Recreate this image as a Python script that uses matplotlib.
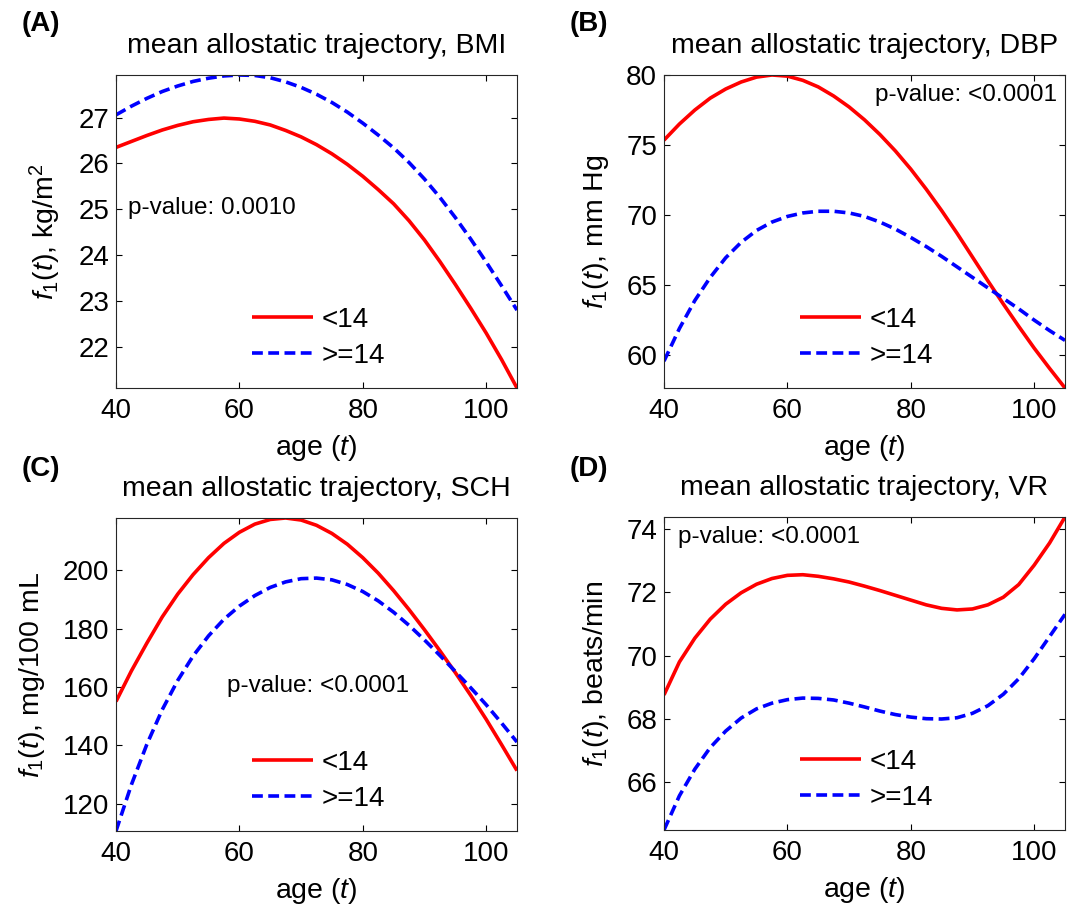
"""
Mean allostatic trajectories (BMI, DBP, SCH, VR) by group, 2x2 panels
"""

import matplotlib
matplotlib.use('Agg')
import matplotlib.pyplot as plt
import numpy as np

plt.rcParams['font.family'] = ['Liberation Sans', 'DejaVu Sans']
plt.rcParams['mathtext.fontset'] = 'custom'
plt.rcParams['mathtext.rm'] = 'Liberation Sans'
plt.rcParams['mathtext.it'] = 'Liberation Sans:italic'

# ages (t), every 2.5 years
age = [40, 42.5, 45, 47.5, 50, 52.5, 55, 57.5, 60, 62.5, 65, 67.5, 70, 72.5,
       75, 77.5, 80, 82.5, 85, 87.5, 90, 92.5, 95, 97.5, 100, 102.5, 105]

# BMI, kg/m^2
bmi_lt14 = [26.35, 26.48, 26.61, 26.73, 26.83, 26.91, 26.96, 26.99, 26.97, 26.92, 26.84, 26.72, 26.58, 26.41,
            26.21, 25.98, 25.72, 25.43, 25.12, 24.75, 24.33, 23.86, 23.36, 22.84, 22.30, 21.72, 21.10]
bmi_ge14 = [27.06, 27.25, 27.42, 27.57, 27.69, 27.79, 27.86, 27.91, 27.93, 27.92, 27.87, 27.78, 27.66, 27.51,
            27.33, 27.12, 26.88, 26.62, 26.34, 26.02, 25.66, 25.26, 24.82, 24.35, 23.85, 23.33, 22.80]

# DBP, mm Hg
dbp_lt14 = [75.35, 76.50, 77.50, 78.35, 79.00, 79.50, 79.85, 80.00, 79.92, 79.62, 79.15, 78.50, 77.72, 76.80,
            75.75, 74.58, 73.28, 71.85, 70.32, 68.70, 67.00, 65.30, 63.65, 62.05, 60.50, 59.05, 57.65]
dbp_ge14 = [59.57, 61.90, 63.90, 65.55, 66.95, 68.05, 68.90, 69.50, 69.90, 70.15, 70.27, 70.27, 70.15, 69.90,
            69.50, 69.00, 68.40, 67.75, 67.05, 66.30, 65.55, 64.80, 64.05, 63.30, 62.50, 61.75, 61.05]

# SCH, mg/100 mL
sch_lt14 = [155.0, 165.5, 175.0, 184.0, 191.8, 198.5, 204.3, 209.2, 213.0, 215.8, 217.4, 217.9, 217.2, 215.4,
            212.6, 208.9, 204.3, 199.0, 193.0, 186.5, 179.6, 172.4, 164.9, 157.1, 148.9, 140.2, 131.3]
sch_ge14 = [110.6, 126.5, 140.3, 152.2, 162.2, 170.6, 177.5, 183.2, 187.7, 191.3, 194.1, 196.0, 197.1, 197.3,
            196.7, 195.1, 192.7, 189.5, 185.6, 181.1, 176.1, 170.8, 165.3, 159.7, 153.9, 147.6, 141.1]

# VR, beats/min
vr_lt14 = [68.76, 69.80, 70.55, 71.15, 71.62, 71.98, 72.25, 72.43, 72.53, 72.55, 72.50, 72.42, 72.32, 72.19,
           72.05, 71.90, 71.75, 71.60, 71.49, 71.44, 71.47, 71.60, 71.84, 72.24, 72.85, 73.55, 74.37]
vr_ge14 = [64.50, 65.58, 66.42, 67.10, 67.62, 68.03, 68.32, 68.50, 68.61, 68.66, 68.65, 68.60, 68.50, 68.38,
           68.25, 68.14, 68.06, 68.01, 68.00, 68.04, 68.18, 68.42, 68.78, 69.27, 69.90, 70.60, 71.30]

group_labels = ['<14', '>=14']
panel_letters = ['(A)', '(B)', '(C)', '(D)']
markers = ['BMI', 'DBP', 'SCH', 'VR']
units = ['kg/m$^2$', 'mm Hg', 'mg/100 mL', 'beats/min']
pvalues = ['p-value: 0.0010', 'p-value: <0.0001', 'p-value: <0.0001', 'p-value: <0.0001']
yticks = [[22, 23, 24, 25, 26, 27], [60, 65, 70, 75, 80],
          [120, 140, 160, 180, 200], [66, 68, 70, 72, 74]]
xticks = [40, 60, 80, 100]

series = [(bmi_lt14, bmi_ge14), (dbp_lt14, dbp_ge14),
          (sch_lt14, sch_ge14), (vr_lt14, vr_ge14)]

# axes boxes in pixels (left, top), all 401 x 313
W, H = 1090, 907
boxes = [(116, 75), (664, 75), (116, 518), (664, 517)]
# where the p-value text sits (axes fraction) and its alignment
pv_pos = [(0.03, 0.575, 'left'), (0.979, 0.936, 'right'),
          (0.276, 0.464, 'left'), (0.034, 0.935, 'left')]
letter_pos = [(22, 24), (570, 24), (22, 469), (570, 469)]

fig = plt.figure(figsize=(W / 100, H / 100), dpi=100)
fig.patch.set_facecolor('white')

for i in range(4):
    x0, y0 = boxes[i]
    ax = fig.add_axes([x0 / W, 1 - (y0 + 313) / H, 401 / W, 313 / H])
    lo, hi = series[i]
    ax.plot(age, lo, color='#ff0000', lw=2.6, solid_capstyle='butt',
            solid_joinstyle='round', label=group_labels[0])
    ax.plot(age, hi, color='#0000ff', lw=2.6, dashes=(3.0, 1.5), label=group_labels[1])

    ax.set_xlim(40, 105)
    allv = np.concatenate([lo, hi])
    ax.set_ylim(allv.min(), allv.max())
    ax.set_xticks(xticks)
    ax.set_yticks(yticks[i])

    ax.tick_params(direction='in', length=4, width=0.8, top=True, right=True,
                   labelsize=20, pad=5)
    ax.tick_params(axis='x', pad=7)
    for s in ax.spines.values():
        s.set_linewidth(0.8)
        s.set_color('#262626')

    ax.set_title(f'mean allostatic trajectory, {markers[i]}', fontsize=20.5, pad=15.5)
    ax.set_xlabel(r'age ($t$)', fontsize=20.5, labelpad=6.5)
    ax.set_ylabel(r'$f_1(t)$, ' + units[i], fontsize=20.5, labelpad=11)

    px, py, ha = pv_pos[i]
    ax.text(px, py, pvalues[i], transform=ax.transAxes, ha=ha, va='center',
            fontsize=17.5)

    ax.legend(loc='upper left', bbox_to_anchor=(0.339, 0.26), frameon=False,
              fontsize=20, handlelength=2.2, handletextpad=0.3,
              labelspacing=0.38, borderpad=0, borderaxespad=0)

    lx, ly = letter_pos[i]
    fig.text(lx / W, 1 - ly / H, panel_letters[i], fontsize=20, fontweight='bold',
             ha='left', va='center')

plt.savefig('out.png', dpi=100, facecolor='white')
plt.close()
